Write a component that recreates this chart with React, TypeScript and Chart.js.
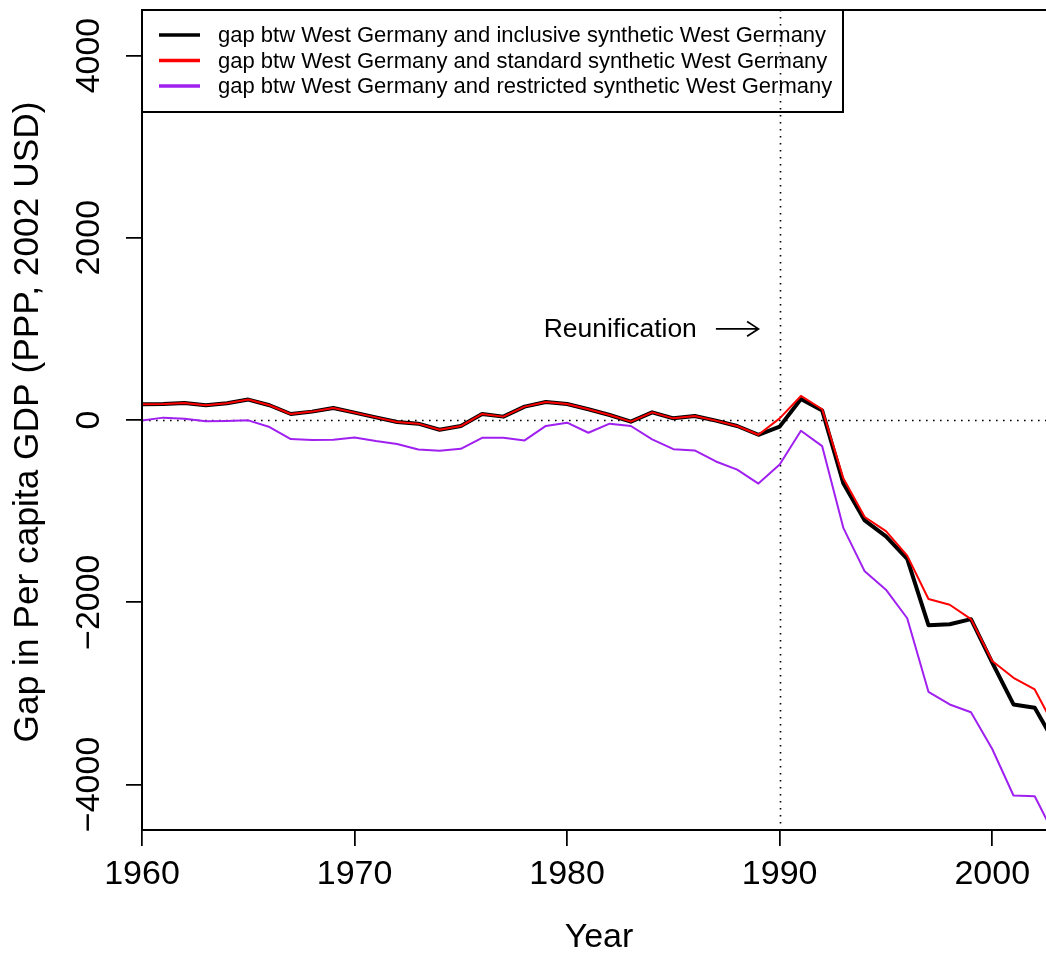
import React, { useEffect, useRef } from "react";
import { Chart, registerables } from "chart.js";

Chart.register(...registerables);

const years = [
  1960, 1961, 1962, 1963, 1964, 1965, 1966, 1967, 1968, 1969,
  1970, 1971, 1972, 1973, 1974, 1975, 1976, 1977, 1978, 1979,
  1980, 1981, 1982, 1983, 1984, 1985, 1986, 1987, 1988, 1989,
  1990, 1991, 1992, 1993, 1994, 1995, 1996, 1997, 1998, 1999,
  2000, 2001, 2002, 2003,
];

const inclusiveGap = [
  173, 175, 187, 162, 184, 224, 162, 66, 92, 132,
  81, 29, -22, -40, -107, -66, 66, 37, 147, 197,
  176, 118, 55, -18, 84, 18, 44, -7, -66, -162,
  -73, 231, 105, -698, -1102, -1278, -1524, -2252, -2241, -2186,
  -2663, -3122, -3159, -3567,
];

const standardGap = [
  173, 175, 187, 162, 184, 224, 162, 66, 92, 132,
  81, 29, -22, -40, -107, -66, 66, 37, 147, 197,
  176, 118, 55, -18, 84, 18, 44, -7, -66, -162,
  18, 264, 118, -643, -1065, -1220, -1488, -1965, -2028, -2186,
  -2645, -2829, -2957, -3398,
];

const restrictedGap = [
  -5, 26, 14, -15, -11, -4, -77, -209, -220, -217,
  -191, -231, -264, -323, -338, -316, -195, -195, -224, -65,
  -29, -140, -40, -66, -213, -320, -334, -455, -544, -698,
  -489, -118, -287, -1187, -1661, -1862, -2176, -2983, -3122, -3207,
  -3611, -4121, -4129, -4589,
];

const seriesLabels = [
  "gap btw West Germany and inclusive synthetic West Germany",
  "gap btw West Germany and standard synthetic West Germany",
  "gap btw West Germany and restricted synthetic West Germany",
];
const seriesColors = ["#000000", "#FF0000", "#A020F0"];

const xTickValues = [1960, 1970, 1980, 1990, 2000];
const xTickLabels = ["1960", "1970", "1980", "1990", "2000"];
const yTickValues = [-4000, -2000, 0, 2000, 4000];
const yTickLabels = ["\u22124000", "\u22122000", "0", "2000", "4000"];

const xTitle = "Year";
const yTitle = "Gap in Per capita GDP (PPP, 2002 USD)";

const reunificationYear = 1990;
const annotationText = "Reunification";
const annotationTextYear = 1982.5;
const annotationValue = 1000;
const arrowFromYear = 1987;
const arrowToYear = 1989;

const FONT = '"Liberation Sans", Arial, Helvetica, sans-serif';

const toPoints = (vals: number[]) => vals.map((v, i) => ({ x: years[i], y: v }));

const rPlugin = {
  id: "rdecor",
  beforeDatasetsDraw(chart: any) {
    const { ctx, chartArea, scales } = chart;
    const xs = scales.x;
    const ys = scales.y;
    ctx.save();
    ctx.strokeStyle = "#000";
    ctx.lineWidth = 1.6;
    ctx.setLineDash([1.6, 5.4]);
    const vx = Math.round(xs.getPixelForValue(reunificationYear)) + 0.5;
    ctx.beginPath();
    ctx.moveTo(vx, chartArea.top);
    ctx.lineTo(vx, chartArea.bottom);
    ctx.stroke();
    const hy = Math.round(ys.getPixelForValue(0)) + 0.5;
    ctx.beginPath();
    ctx.moveTo(chartArea.left, hy);
    ctx.lineTo(chartArea.right, hy);
    ctx.stroke();
    ctx.restore();
  },
  afterDatasetsDraw(chart: any) {
    const { ctx, chartArea, scales } = chart;
    const xs = scales.x;
    const ys = scales.y;
    ctx.save();

    // box
    ctx.strokeStyle = "#000";
    ctx.lineWidth = 2;
    ctx.setLineDash([]);
    ctx.strokeRect(chartArea.left, chartArea.top, chartArea.right - chartArea.left, chartArea.bottom - chartArea.top);

    // legend (transparent background)
    const lx = chartArea.left;
    const ly = chartArea.top;
    const lw = 701;
    const lh = 102;
    ctx.strokeRect(lx, ly, lw, lh);
    const rows = [25, 50.5, 76];
    ctx.font = `22px ${FONT}`;
    ctx.textAlign = "left";
    ctx.textBaseline = "middle";
    seriesLabels.forEach((lab, i) => {
      const yy = ly + rows[i];
      ctx.strokeStyle = seriesColors[i];
      ctx.lineWidth = 3.5;
      ctx.beginPath();
      ctx.moveTo(lx + 17, yy);
      ctx.lineTo(lx + 58, yy);
      ctx.stroke();
      ctx.fillStyle = "#000";
      ctx.fillText(lab, lx + 76, yy + 1);
    });

    // annotation
    const ay = ys.getPixelForValue(annotationValue);
    ctx.fillStyle = "#000";
    ctx.font = `26.5px ${FONT}`;
    ctx.textAlign = "center";
    ctx.textBaseline = "middle";
    ctx.fillText(annotationText, xs.getPixelForValue(annotationTextYear), ay + 1);
    const ax0 = xs.getPixelForValue(arrowFromYear);
    const ax1 = xs.getPixelForValue(arrowToYear);
    ctx.strokeStyle = "#000";
    ctx.lineWidth = 1.75;
    ctx.beginPath();
    ctx.moveTo(ax0, ay);
    ctx.lineTo(ax1, ay);
    const hl = 13.5;
    const ang = (33 * Math.PI) / 180;
    ctx.moveTo(ax1 - hl * Math.cos(ang), ay - hl * Math.sin(ang));
    ctx.lineTo(ax1, ay);
    ctx.lineTo(ax1 - hl * Math.cos(ang), ay + hl * Math.sin(ang));
    ctx.stroke();

    // tick labels
    ctx.font = `34px ${FONT}`;
    ctx.fillStyle = "#000";
    ctx.textAlign = "center";
    ctx.textBaseline = "middle";
    xTickValues.forEach((v, i) => {
      ctx.fillText(xTickLabels[i], xs.getPixelForValue(v), chartArea.bottom + 45);
    });
    yTickValues.forEach((v, i) => {
      ctx.save();
      ctx.translate(chartArea.left - 52, ys.getPixelForValue(v));
      ctx.rotate(-Math.PI / 2);
      ctx.fillText(yTickLabels[i], 0, 0);
      ctx.restore();
    });

    // titles
    ctx.fillText(xTitle, (chartArea.left + chartArea.right) / 2, chartArea.bottom + 108);
    ctx.save();
    ctx.font = `35.3px ${FONT}`;
    ctx.translate(chartArea.left - 114, (chartArea.top + chartArea.bottom) / 2 + 2);
    ctx.rotate(-Math.PI / 2);
    ctx.fillText(yTitle, 0, 0);
    ctx.restore();

    ctx.restore();
  },
};

export default function App() {
  const ref = useRef<HTMLCanvasElement | null>(null);
  useEffect(() => {
    if (!ref.current) return;
    const chart = new Chart(ref.current, {
      type: "line",
      data: {
        datasets: [
          {
            label: seriesLabels[0],
            data: toPoints(inclusiveGap),
            borderColor: seriesColors[0],
            borderWidth: 4,
            order: 2,
          },
          {
            label: seriesLabels[1],
            data: toPoints(standardGap),
            borderColor: seriesColors[1],
            borderWidth: 2,
            order: 1,
          },
          {
            label: seriesLabels[2],
            data: toPoints(restrictedGap),
            borderColor: seriesColors[2],
            borderWidth: 2,
            order: 0,
          },
        ],
      },
      options: {
        responsive: false,
        animation: false,
        devicePixelRatio: 1,
        events: [],
        elements: {
          point: { radius: 0 },
          line: { tension: 0, borderJoinStyle: "round", borderCapStyle: "round", fill: false },
        },
        layout: { padding: { top: 10, right: 14, left: 0, bottom: 0 } },
        plugins: { legend: { display: false }, tooltip: { enabled: false }, title: { display: false } },
        scales: {
          x: {
            type: "linear",
            min: 1960,
            max: 2003,
            afterBuildTicks: (s: any) => {
              s.ticks = xTickValues.map((v) => ({ value: v }));
            },
            afterFit: (s: any) => {
              s.height = 129;
              s.paddingLeft = 0;
              s.paddingRight = 0;
            },
            ticks: { color: "rgba(0,0,0,0)", font: { size: 1 }, padding: 0 },
            grid: { drawOnChartArea: false, color: "#000", lineWidth: 1.75, tickLength: 16 },
            border: { display: false },
          },
          y: {
            type: "linear",
            min: -4500,
            max: 4500,
            afterBuildTicks: (s: any) => {
              s.ticks = yTickValues.map((v) => ({ value: v }));
            },
            afterFit: (s: any) => {
              s.width = 142;
              s.paddingTop = 0;
              s.paddingBottom = 0;
            },
            ticks: { color: "rgba(0,0,0,0)", font: { size: 1 }, padding: 0 },
            grid: { drawOnChartArea: false, color: "#000", lineWidth: 1.75, tickLength: 16 },
            border: { display: false },
          },
        },
      },
      plugins: [rPlugin],
    });
    return () => chart.destroy();
  }, []);

  return (
    <div
      style={{
        position: "absolute",
        left: 0,
        top: 0,
        width: 1046,
        height: 959,
        overflow: "hidden",
        background: "#fff",
      }}
    >
      <canvas ref={ref} width={1070} height={959} style={{ width: 1070, height: 959, display: "block" }} />
    </div>
  );
}
